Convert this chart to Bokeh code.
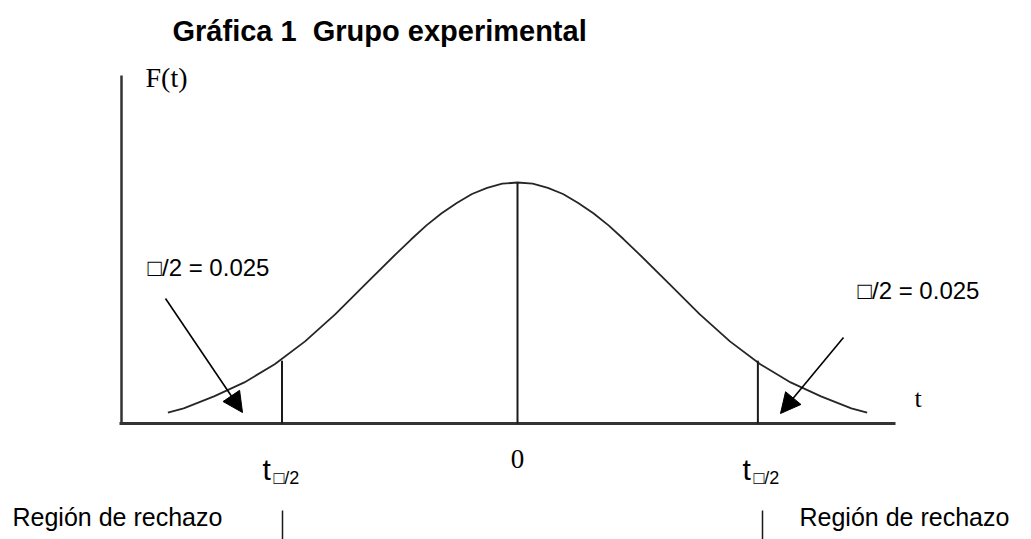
from bokeh.plotting import figure
from bokeh.models import Range1d, Label, Arrow, NormalHead, ColumnDataSource
from bokeh.embed import file_html
from bokeh.resources import INLINE

# Density curve F(t), read point by point
t_vals = [-2.88, -2.75, -2.5, -2.25, -2.0, -1.75, -1.5, -1.25, -1.0, -0.875, -0.75, -0.625,
          -0.5, -0.375, -0.25, -0.125, 0.0, 0.125, 0.25, 0.375, 0.5, 0.625, 0.75, 0.875,
          1.0, 1.25, 1.5, 1.75, 2.0, 2.25, 2.5, 2.75, 2.88]
f_vals = [0.018, 0.025, 0.045, 0.068, 0.098, 0.136, 0.181, 0.231, 0.281, 0.305, 0.328, 0.348,
          0.365, 0.380, 0.390, 0.397, 0.399, 0.397, 0.390, 0.380, 0.365, 0.348, 0.328, 0.305,
          0.281, 0.231, 0.181, 0.136, 0.098, 0.068, 0.045, 0.025, 0.018]

# Critical values and the height of the curve there
t_crit = [-1.94, 1.98]
f_crit = [0.104, 0.104]
t_center = 0.0
f_peak = 0.399

title_text = "Gráfica 1\u00a0 Grupo experimental"
alpha_text = "\u25a1/2 = 0.025"
crit_main = "t"
crit_sub = "\u25a1/2"
region_text = "Región de rechazo"

SANS = "Liberation Sans"
SERIF = "Liberation Serif"
INK = "#1a1a1a"

W, H = 1031, 539
px_x = 121.4   # pixels per unit of t
px_y = 604.0   # pixels per unit of F(t)
x0_px, y0_px = 517, 423  # where t = 0 and F = 0 sit on the page

p = figure(width=W, height=H, output_backend="svg", toolbar_location=None,
           x_axis_location=None, y_axis_location=None, min_border=0,
           x_range=Range1d(-x0_px / px_x, (W - x0_px) / px_x),
           y_range=Range1d(-(H - y0_px) / px_y, y0_px / px_y))
p.grid.visible = False
p.outline_line_color = None
p.background_fill_color = "white"
p.border_fill_color = "white"


def X(px):
    return (px - x0_px) / px_x


def Y(py):
    return (y0_px - py) / px_y


# Axes drawn as plain strokes
p.segment(x0=[X(121)], y0=[Y(75)], x1=[X(121)], y1=[0], line_color="#333333", line_width=2.5)
p.segment(x0=[X(119)], y0=[0], x1=[X(895)], y1=[0], line_color="#333333", line_width=3)

# Curve
src = ColumnDataSource(dict(t=t_vals, f=f_vals))
p.line("t", "f", source=src, line_color="#262626", line_width=1.8)

# Vertical lines at 0 and at the critical values
p.segment(x0=[t_center] + t_crit, y0=[0, 0, 0], x1=[t_center] + t_crit,
          y1=[f_peak] + f_crit, line_color=INK, line_width=2)

# Short marks under the critical values
for mx in (282, 762):
    p.segment(x0=[X(mx)], y0=[Y(510)], x1=[X(mx)], y1=[Y(540)], line_color=INK, line_width=1.5)

# Arrows pointing into the tails
for xs, ys, xe, ye in [(X(165), Y(298), X(242), Y(412)), (X(843), Y(337), X(780), Y(413))]:
    p.add_layout(Arrow(end=NormalHead(size=20, fill_color="black", line_color="black"),
                       x_start=xs, y_start=ys, x_end=xe, y_end=ye,
                       line_color="black", line_width=1.6))


def lab(text, px, base, font=SANS, size=24, style="normal", align="left"):
    # base is the wanted baseline row on the page
    p.add_layout(Label(x=X(px), y=Y(base - 0.37 * size), text=text, text_font=font,
                       text_font_size=f"{size}px", text_font_style=style,
                       text_baseline="alphabetic", text_align=align, text_color="black"))


lab(title_text, 172, 41, size=29, style="bold")
lab("F(t)", 145, 87, font=SERIF, size=28)
lab(alpha_text, 147, 276, size=24)
lab(alpha_text, 857, 299, size=24)
lab("t", 914, 408, font=SERIF, size=26)
lab("0", 517, 468, font=SERIF, size=27, align="center")

for tx in (262, 742):
    lab(crit_main, tx, 480, size=30)
    lab(crit_sub, tx + 11, 484, size=18)

lab(region_text, 12, 526, size=25)
lab(region_text, 799, 526, size=25)

open("out.html", "w").write(file_html(p, INLINE))
